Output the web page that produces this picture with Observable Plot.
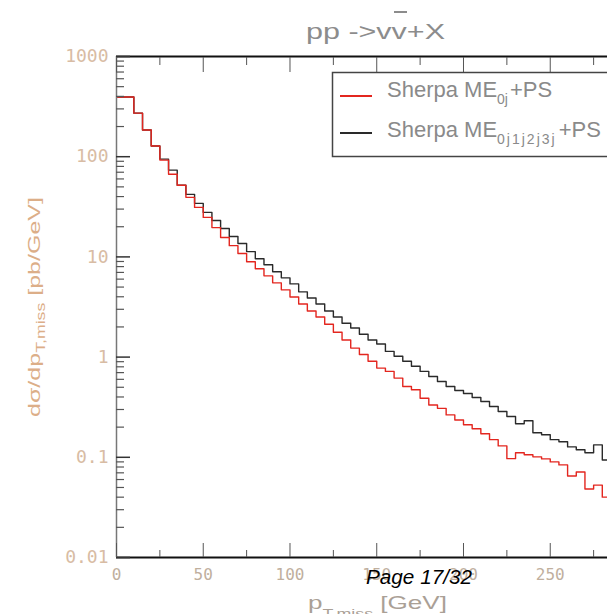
<!DOCTYPE html>
<html>
<head>
<meta charset="utf-8">
<script src="https://cdn.jsdelivr.net/npm/d3@7"></script>
<script src="https://cdn.jsdelivr.net/npm/@observablehq/plot@0.6"></script>
<style>
  html, body { margin: 0; padding: 0; background: #fff; }
  #wrap { position: relative; width: 607px; height: 614px; overflow: hidden; background: #fff; }
  #wrap > svg { position: absolute; left: 0; top: 0; }
  #overlay { pointer-events: none; }
</style>
</head>
<body>
<div id="wrap"></div>
<script>
// ---- data ----
const binLow = [0,5,10,15,20,25,30,35,40,45,50,55,60,65,70,75,80,85,90,95,
  100,105,110,115,120,125,130,135,140,145,150,155,160,165,170,175,180,185,190,195,
  200,205,210,215,220,225,230,235,240,245,250,255,260,265,270,275,280];
const binWidth = 5;
const seriesNames = ["Sherpa ME0j+PS", "Sherpa ME0j1j2j3j+PS"];
// Sherpa ME_{0j}+PS (red)
const red = [394,394,272,185,128,92.5,66.9,51.9,39.3,31.2,24.8,19.6,15.6,12.95,10.8,8.95,7.61,6.47,5.51,4.69,
  3.98,3.39,2.88,2.51,2.13,1.77,1.48,1.23,1.06,0.908,0.777,0.720,0.617,0.509,0.472,0.388,0.333,0.308,0.265,0.236,
  0.211,0.193,0.172,0.150,0.130,0.097,0.111,0.106,0.101,0.0964,0.090,0.084,0.065,0.0713,0.0482,0.0528,0.040];
// Sherpa ME_{0j1j2j3j}+PS (black)
const black = [394,394,272,185,128,94.6,73.4,51.9,42.1,34.2,27.8,23.1,19.2,16.0,13.6,11.3,9.6,8.36,7.10,6.18,
  5.38,4.48,3.89,3.39,2.88,2.51,2.18,1.95,1.69,1.48,1.35,1.14,1.02,0.908,0.809,0.720,0.641,0.571,0.509,0.464,
  0.433,0.395,0.360,0.321,0.286,0.255,0.216,0.232,0.176,0.168,0.150,0.143,0.127,0.119,0.111,0.133,0.094];
const yMajor = [0.01, 0.1, 1, 10, 100, 1000];
const yMajorLabels = ["0.01", "0.1", "1", "10", "100", "1000"];
const xMajor = [0, 50, 100, 150, 200, 250];
const xMinor = [25, 75, 125, 175, 225, 275];
const minorMult = [2,3,4,5,6,7,8,9];

// ---- build ----
function rows(name, vals) {
  const r = binLow.map((x, i) => ({series: name, pT: x, v: vals[i]}));
  r.push({series: name, pT: binLow[binLow.length - 1] + binWidth, v: vals[vals.length - 1]});
  return r;
}
const redRows = rows(seriesNames[0], red);
const blackRows = rows(seriesNames[1], black);
const yMinor = yMajor.slice(0, -1).flatMap(d => minorMult.map(m => +(m * d).toPrecision(3)));

const tickColor = "#333";
const chart = Plot.plot({
  width: 607,
  height: 614,
  marginLeft: 116,
  marginRight: 0,
  marginTop: 56,
  marginBottom: 57,
  style: {background: "transparent", fontFamily: "DejaVu Sans Mono"},
  x: {domain: [0, 283]},
  y: {type: "log", domain: [0.01, 1000]},
  marks: [
    Plot.line(blackRows, {x: "pT", y: "v", curve: "step-after", stroke: "#2a2a2a", strokeWidth: 1.4, clip: true}),
    Plot.line(redRows, {x: "pT", y: "v", curve: "step-after", stroke: "#e3261f", strokeWidth: 1.4, clip: true}),
    Plot.ruleX([0], {stroke: "#777", strokeWidth: 1.5}),
    Plot.ruleY([1000], {stroke: "#111", strokeWidth: 2}),
    Plot.ruleY([0.01], {stroke: "#111", strokeWidth: 2}),
    Plot.axisY({ticks: yMajor, tickSize: -14, tickFormat: () => "", label: null, stroke: tickColor, strokeWidth: 1.5}),
    Plot.axisY({ticks: yMinor, tickSize: -8, tickFormat: () => "", label: null, stroke: "#555", strokeWidth: 1.2}),
    Plot.axisX({anchor: "bottom", ticks: xMajor, tickSize: -14, tickFormat: () => "", label: null, stroke: "#555"}),
    Plot.axisX({anchor: "bottom", ticks: xMinor, tickSize: -7, tickFormat: () => "", label: null, stroke: "#555"}),
    Plot.axisX({anchor: "top", ticks: xMajor, tickSize: -15, tickFormat: () => "", label: null, stroke: "#555"}),
    Plot.axisX({anchor: "top", ticks: xMinor, tickSize: -8, tickFormat: () => "", label: null, stroke: "#555"}),
    Plot.text(yMajor, {y: d => d, text: (d, i) => yMajorLabels[i], frameAnchor: "left", textAnchor: "end", dx: -8,
      fill: "#d8bca4", fontSize: 18, fontFamily: "DejaVu Sans Mono"}),
    Plot.text(xMajor, {x: d => d, text: d => String(d), frameAnchor: "bottom", dy: 17, lineAnchor: "middle",
      fill: "#c0af9e", fontSize: 16, fontFamily: "DejaVu Sans Mono"})
  ]
});
document.getElementById("wrap").appendChild(chart);

// ---- text overlay: title, legend, axis labels, page footer ----
const overlay = `
<svg id="overlay" width="607" height="614" xmlns="http://www.w3.org/2000/svg" font-family="Liberation Sans, Arial, sans-serif">
  <text x="306" y="39" font-size="22" fill="#8c8c8c" textLength="139" lengthAdjust="spacingAndGlyphs">pp -&gt;vv+X</text>
  <line x1="394" x2="407" y1="12" y2="12" stroke="#8c8c8c" stroke-width="2"/>
  <rect x="332.5" y="72.5" width="300" height="84" fill="#fff" stroke="#444" stroke-width="1.5"/>
  <line x1="340" x2="372" y1="96" y2="96" stroke="#e3261f" stroke-width="2"/>
  <line x1="340" x2="372" y1="133" y2="133" stroke="#2a2a2a" stroke-width="2"/>
  <text x="387" y="97" fill="#8a8a8a" font-size="22">Sherpa ME<tspan font-size="14" dy="7">0j</tspan><tspan dy="-7" dx="2">+PS</tspan></text>
  <text x="387" y="137" fill="#8a8a8a" font-size="22">Sherpa ME<tspan font-size="14" dy="7" letter-spacing="2">0j1j2j3j</tspan><tspan dy="-7" dx="2">+PS</tspan></text>
  <g transform="translate(40,417) rotate(-90)" fill="#dcae88">
    <text x="0" y="0" font-size="17" textLength="220" lengthAdjust="spacingAndGlyphs">dσ/dp<tspan font-size="12" dy="5">T,miss</tspan><tspan dy="-5"> [pb/GeV]</tspan></text>
  </g>
  <text x="308" y="609" font-size="19" fill="#aaa096" textLength="139" lengthAdjust="spacingAndGlyphs">p<tspan font-size="13" dy="9">T,miss</tspan><tspan dy="-9"> [GeV]</tspan></text>
  <text x="366" y="584" font-size="20" font-style="italic" fill="#000" textLength="106" lengthAdjust="spacingAndGlyphs">Page 17/32</text>
</svg>`;
document.getElementById("wrap").insertAdjacentHTML("beforeend", overlay);
</script>
</body>
</html>
